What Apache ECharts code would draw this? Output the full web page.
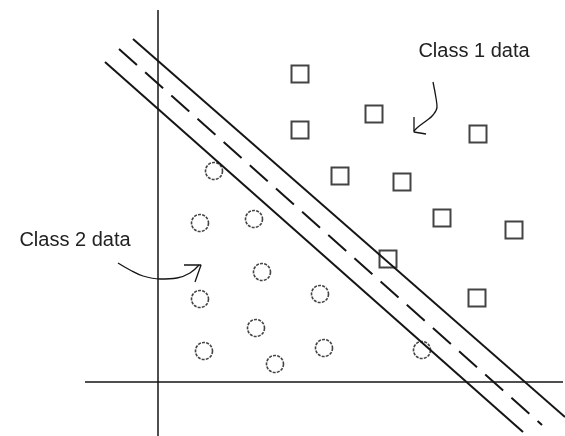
<!DOCTYPE html>
<html>
<head>
<meta charset="utf-8">
<script src="https://cdn.jsdelivr.net/npm/echarts@6/dist/echarts.min.js"></script>
<style>
  html, body { margin: 0; padding: 0; background: #fff; }
  #main { width: 565px; height: 436px; }
</style>
</head>
<body>
<div id="main"></div>
<script>
// points, origin at the crossing of the two axes, y up
var class1Points = [
  [142, 308], [216, 268], [142, 252], [320, 248], [182, 206],
  [244, 200], [284, 164], [356, 152], [230, 123], [319, 84]
];
var class2Points = [
  [56, 211], [42, 159], [96, 163], [104, 110], [42, 83], [162, 88],
  [98, 54], [46, 31], [166, 34], [117, 18], [264, 32]
];

// separating hyperplane and the two margins
var upperMargin = [[-25, 343], [407, -35]];
var boundary = [[-39, 333], [384, -43]];
var lowerMargin = [[-53, 320], [365, -50]];

// the hand drawn coordinate axes
var axisH = [[-73, 0], [405, 0]];
var axisV = [[0, 372], [0, -54]];

// pointer arrows from the labels
var arrow1Curve = [[275, 300], [278, 284], [279, 275], [275, 267], [268, 261], [260, 255], [256, 251]];
var arrow1Head = [[256, 265], [256, 250], [268, 248]];
var arrow2Curve = [[-40, 119], [-28, 112], [-15, 106], [2, 103], [19, 104], [32, 109], [41, 117]];
var arrow2Head = [[26, 117], [43, 117], [37, 100]];

var labels = ['Class 1 data', 'Class 2 data'];

var ink = '#151515';

var chart = echarts.init(document.getElementById('main'));

function plainLine(data, width, type, z) {
  return {
    type: 'line',
    data: data,
    symbol: 'none',
    silent: true,
    animation: false,
    z: z || 2,
    lineStyle: { color: ink, width: width, type: type || 'solid' }
  };
}

var arrow1 = plainLine(arrow1Curve, 1.3);
arrow1.smooth = 0.4;
var arrow2 = plainLine(arrow2Curve, 1.3);
arrow2.smooth = 0.4;

var option = {
  backgroundColor: '#fff',
  animation: false,
  grid: { left: 0, right: 0, top: 0, bottom: 0 },
  xAxis: { type: 'value', min: -158, max: 407, show: false },
  yAxis: { type: 'value', min: -54, max: 382, show: false },
  series: [
    plainLine(axisH, 1.5),
    plainLine(axisV, 1.5),
    {
      type: 'scatter',
      data: class1Points,
      symbol: 'rect',
      symbolSize: 17,
      z: 3,
      itemStyle: { color: '#fff', borderColor: ink, borderWidth: 2 }
    },
    {
      type: 'scatter',
      data: class2Points,
      symbol: 'circle',
      symbolSize: 17,
      z: 3,
      itemStyle: { color: 'rgba(255,255,255,0)', borderColor: ink, borderWidth: 1.6, borderType: [3, 1.2] }
    },
    plainLine(upperMargin, 2, 'solid', 4),
    plainLine(boundary, 2, [24, 11], 4),
    plainLine(lowerMargin, 2, 'solid', 4),
    arrow1,
    plainLine(arrow1Head, 1.3),
    arrow2,
    plainLine(arrow2Head, 1.3)
  ],
  graphic: [
    {
      type: 'text', x: 474, y: 51,
      style: { text: labels[0], fill: '#222', font: '20px "Liberation Sans", Arial, sans-serif', align: 'center', verticalAlign: 'middle' }
    },
    {
      type: 'text', x: 75, y: 240,
      style: { text: labels[1], fill: '#222', font: '20px "Liberation Sans", Arial, sans-serif', align: 'center', verticalAlign: 'middle' }
    }
  ]
};

chart.setOption(option);
</script>
</body>
</html>
